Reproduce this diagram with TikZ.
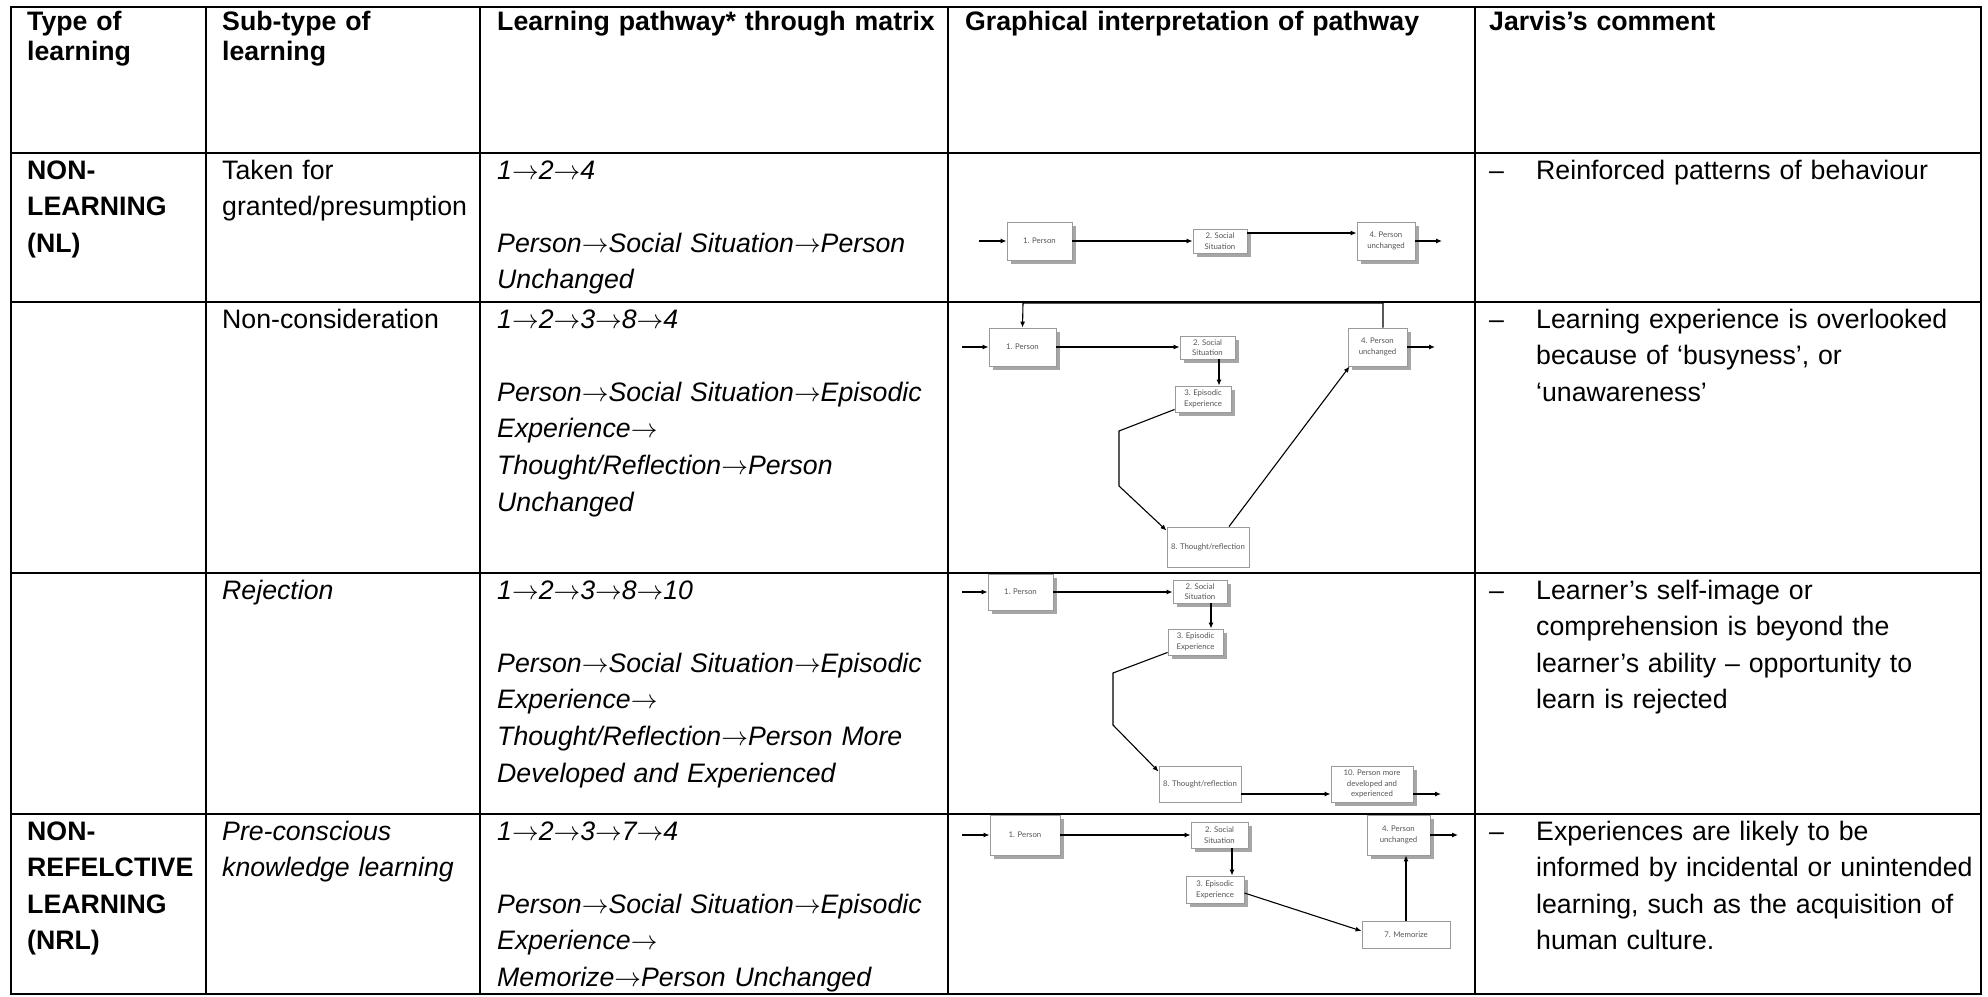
\RequirePackage{fix-cm}
\documentclass[tikz,border=0pt]{standalone}
\usepackage{fontspec}
\setmainfont{Liberation Sans}
\newfontfamily\boxfont{Lato}
\usetikzlibrary{arrows.meta,shadows}
\definecolor{boxgray}{HTML}{9A9A9A}
\definecolor{shadowgray}{HTML}{A6A6A6}
\definecolor{labelgray}{HTML}{555555}
% thin, full-width arrow used inside the pathway texts
\newcommand{\stepto}{\ensuremath{\rightarrow}}
\begin{document}
\begin{tikzpicture}[x=1pt,y=-1pt,
  cell/.style={anchor=base west, inner sep=0pt, text width=500pt, align=left,
    font=\fontsize{26.7}{36.6}\selectfont},
  cellb/.style={cell, font=\fontsize{26.7}{36.6}\selectfont\bfseries},
  celli/.style={cell, font=\fontsize{26.7}{36.6}\selectfont\itshape},
  head/.style={cell, font=\fontsize{26.7}{30.5}\selectfont\bfseries},
  bx/.style={draw=boxgray, line width=0.9pt, fill=white, inner sep=0pt,
    align=center, text=labelgray, font=\boxfont\fontsize{7.8}{10.6}\selectfont},
  shbx/.style={bx, drop shadow={shadow xshift=4pt, shadow yshift=-4pt,
    fill=shadowgray, opacity=1}},
  link/.style={line width=1.1pt, -{Latex[length=6pt,width=5pt]}},
  grid/.style={line width=2.6pt}]
\useasboundingbox (0,0) rectangle (1988,996);

% table rules
\draw[grid] (11,7) rectangle (1981,994);
\foreach \yy in {153,302,573,814} \draw[grid] (11,\yy) -- (1981,\yy);
\foreach \xx in {206,480,948,1475} \draw[grid] (\xx,7) -- (\xx,994);

% header row
\node[head] (h1) at (27,30) {Type of\\learning};
\node[head] (h2) at (222,30) {Sub-type of\\learning};
\node[head] (h3) at (497,30) {Learning pathway* through matrix};
\node[head] (h4) at (965,30) {Graphical interpretation of pathway};
\node[head] (h5) at (1489,30) {Jarvis’s comment};

% type of learning
\node[cellb] (t1) at (27,179) {NON-\\LEARNING\\(NL)};
\node[cellb] (t4) at (27,840) {NON-\\REFELCTIVE\\LEARNING\\(NRL)};

% sub-types
\node[cell] (s1) at (222,179) {Taken for\\granted/presumption};
\node[cell] (s2) at (222,328) {Non-consideration};
\node[celli] (s3) at (222,599) {Rejection};
\node[celli] (s4) at (222,840) {Pre-conscious\\knowledge learning};

% pathways
\node[celli] (p1) at (497,179) {1\stepto2\stepto4\\[36.6pt]Person\stepto Social Situation\stepto Person\\Unchanged};
\node[celli] (p2) at (497,328) {1\stepto2\stepto3\stepto8\stepto4\\[36.6pt]Person\stepto Social Situation\stepto Episodic\\Experience\stepto\\Thought/Reflection\stepto Person\\Unchanged};
\node[celli] (p3) at (497,599) {1\stepto2\stepto3\stepto8\stepto10\\[36.6pt]Person\stepto Social Situation\stepto Episodic\\Experience\stepto\\Thought/Reflection\stepto Person More\\Developed and Experienced};
\node[celli] (p4) at (497,840) {1\stepto2\stepto3\stepto7\stepto4\\[36.6pt]Person\stepto Social Situation\stepto Episodic\\Experience\stepto\\Memorize\stepto Person Unchanged};

% comments
\node[cell] (d1) at (1489,179) {–};
\node[cell] (c1) at (1536,179) {Reinforced patterns of behaviour};
\node[cell] (d2) at (1489,328) {–};
\node[cell] (c2) at (1536,328) {Learning experience is overlooked\\because of ‘busyness’, or\\‘unawareness’};
\node[cell] (d3) at (1489,599) {–};
\node[cell] (c3) at (1536,599) {Learner’s self-image or\\comprehension is beyond the\\learner’s ability – opportunity to\\learn is rejected};
\node[cell] (d4) at (1489,840) {–};
\node[cell] (c4) at (1536,840) {Experiences are likely to be\\informed by incidental or unintended\\learning, such as the acquisition of\\human culture.};

% pathway 1: taken for granted
\node[shbx, minimum width=65pt, minimum height=38pt] (r1b1) at (1039.5,241) {1. Person};
\node[shbx, minimum width=54pt, minimum height=24pt] (r1b2) at (1220,241) {2. Social\\Situation};
\node[shbx, minimum width=58pt, minimum height=38pt] (r1b4) at (1386,241) {4. Person\\unchanged};
\coordinate (r1in) at (979,241);
\coordinate (r1out) at (1442,241);
\coordinate (r1s24) at ([yshift=8pt]r1b2.east);
\draw[link] (r1in) -- (r1b1.west);
\draw[link] (r1b1.east) -- (r1b1.east -| r1b2.west);
\draw[link] (r1s24) -- (r1s24 -| r1b4.west);
\draw[link] (r1b4.east) -- (r1out);

% pathway 2: non-consideration
\node[shbx, minimum width=67pt, minimum height=38pt] (r2b1) at (1022.5,347) {1. Person};
\node[shbx, minimum width=55pt, minimum height=23pt] (r2b2) at (1207.5,347.5) {2. Social\\Situation};
\node[shbx, minimum width=56pt, minimum height=26pt] (r2b3) at (1203,399) {3. Episodic\\Experience};
\node[bx, minimum width=82pt, minimum height=40pt] (r2b8) at (1208,547) {8. Thought/reflection};
\node[shbx, minimum width=59pt, minimum height=38pt] (r2b4) at (1377.5,347) {4. Person\\unchanged};
\coordinate (r2in) at (962,347);
\coordinate (r2out) at (1435,347);
\coordinate (r2s23) at ([xshift=11.5pt]r2b2.south);
\coordinate (r2k1) at (1119,431);
\coordinate (r2k2) at (1119,486);
\coordinate (r2top) at (1023,303);
\draw[link] (r2in) -- (r2b1.west);
\draw[link] (r2b1.east) -- (r2b1.east -| r2b2.west);
\draw[link] (r2s23) -- (r2s23 |- r2b3.north);
\draw[link] ([yshift=3pt]r2b3.south west) -- (r2k1) -- (r2k2) -- ([yshift=-4pt]r2b8.north west);
\draw[link] ([xshift=21pt]r2b8.north) -- ([xshift=2pt]r2b4.south west);
\draw[link] ([xshift=5.5pt]r2b4.north) |- (r2top) -- (r2b1.north);
\draw[link] (r2b4.east) -- (r2out);

% pathway 3: rejection
\node[shbx, minimum width=65pt, minimum height=36pt] (r3b1) at (1020.5,592) {1. Person};
\node[shbx, minimum width=54pt, minimum height=23pt] (r3b2) at (1200,591.5) {2. Social\\Situation};
\node[shbx, minimum width=55pt, minimum height=26pt] (r3b3) at (1195.5,642) {3. Episodic\\Experience};
\node[bx, minimum width=82pt, minimum height=36pt] (r3b8) at (1200,784) {8. Thought/reflection};
\node[shbx, minimum width=82pt, minimum height=36pt] (r3b10) at (1372,784) {10. Person more\\developed and\\experienced};
\coordinate (r3in) at (962,592);
\coordinate (r3out) at (1441,794);
\coordinate (r3s23) at ([xshift=11pt]r3b2.south);
\coordinate (r3k1) at (1113,673);
\coordinate (r3k2) at (1113,725);
\coordinate (r3s810) at ([yshift=-10pt]r3b8.east);
\draw[link] (r3in) -- (r3b1.west);
\draw[link] (r3b1.east) -- (r3b1.east -| r3b2.west);
\draw[link] (r3s23) -- (r3s23 |- r3b3.north);
\draw[link] ([yshift=3pt]r3b3.south west) -- (r3k1) -- (r3k2) -- ([yshift=-6pt]r3b8.north west);
\draw[link] (r3s810) -- (r3s810 -| r3b10.west);
\draw[link] ([yshift=-10pt]r3b10.east) -- (r3out);

% pathway 4: pre-conscious learning
\node[shbx, minimum width=70pt, minimum height=40pt] (r4b1) at (1025,835) {1. Person};
\node[shbx, minimum width=57pt, minimum height=26pt] (r4b2) at (1219.5,835) {2. Social\\Situation};
\node[shbx, minimum width=58pt, minimum height=27pt] (r4b3) at (1215,889.5) {3. Episodic\\Experience};
\node[bx, minimum width=88pt, minimum height=27pt] (r4b7) at (1406,934.5) {7. Memorize};
\node[shbx, minimum width=63pt, minimum height=40pt] (r4b4) at (1398.5,835) {4. Person\\unchanged};
\coordinate (r4in) at (962,835);
\coordinate (r4out) at (1458,835);
\coordinate (r4s23) at ([xshift=12.5pt]r4b2.south);
\draw[link] (r4in) -- (r4b1.west);
\draw[link] (r4b1.east) -- (r4b1.east -| r4b2.west);
\draw[link] (r4s23) -- (r4s23 |- r4b3.north);
\draw[link] ([yshift=-3.5pt]r4b3.east) -- ([yshift=3.5pt]r4b7.west);
\draw[link] (r4b7.north) -- (r4b7.north |- r4b4.south);
\draw[link] (r4b4.east) -- (r4out);
\end{tikzpicture}
\end{document}
